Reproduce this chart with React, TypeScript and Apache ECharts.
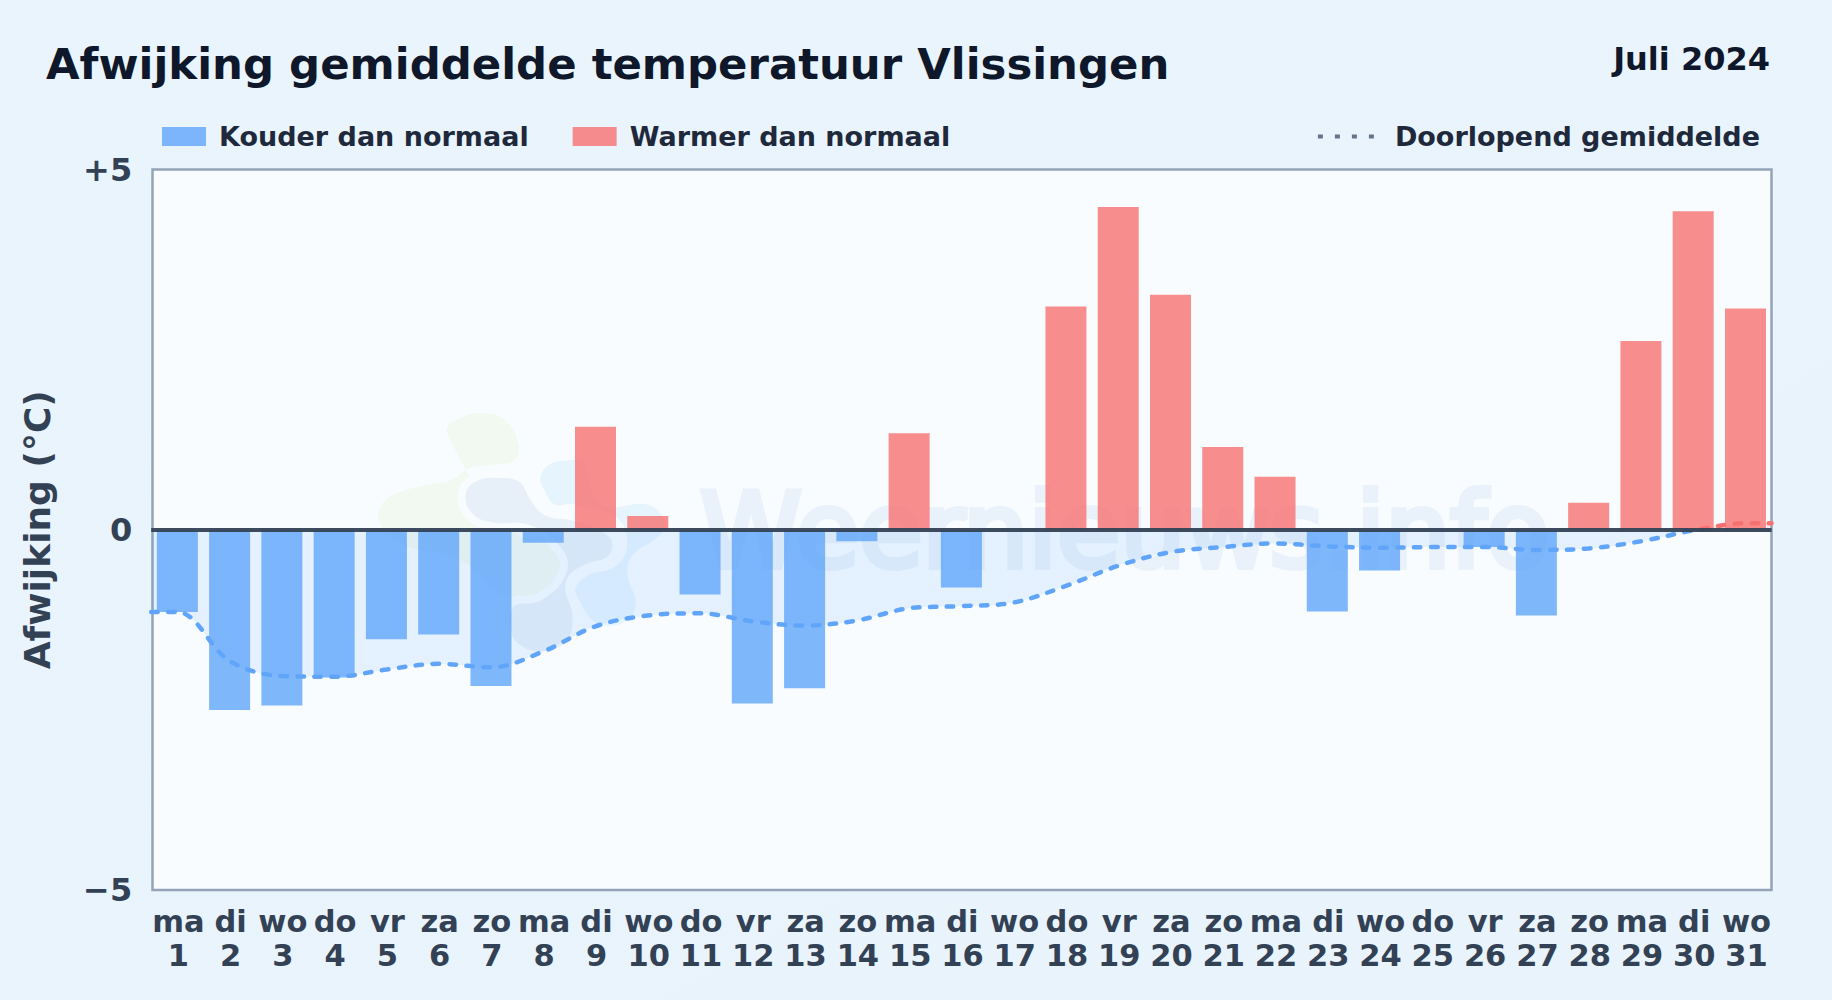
import React, { useEffect, useRef } from "react";
import * as echarts from "echarts";

const weekdays = ["ma","di","wo","do","vr","za","zo","ma","di","wo","do","vr","za","zo","ma","di","wo","do","vr","za","zo","ma","di","wo","do","vr","za","zo","ma","di","wo"];
const dayNumbers = [1,2,3,4,5,6,7,8,9,10,11,12,13,14,15,16,17,18,19,20,21,22,23,24,25,26,27,28,29,30,31];
const deviations = [-1.14,-2.5,-2.44,-2.05,-1.52,-1.455,-2.17,-0.18,1.43,0.19,-0.9,-2.41,-2.2,-0.16,1.34,-0.8,0,3.1,4.48,3.26,1.15,0.735,-1.135,-0.565,0,-0.24,-1.19,0.375,2.62,4.42,3.07];
const runningMean = [-1.14,-1.82,-2.03,-2.04,-1.94,-1.86,-1.91,-1.69,-1.34,-1.19,-1.16,-1.27,-1.33,-1.26,-1.09,-1.06,-1.01,-0.78,-0.5,-0.31,-0.24,-0.19,-0.23,-0.25,-0.24,-0.24,-0.28,-0.26,-0.16,-0.01,0.09];
const greenBlob = [[262,100],[300,55],[380,40],[440,65],[475,130],[465,180],[400,195],[330,205],[275,240],[200,255],[100,285],[60,325],[60,370],[120,430],[300,480],[460,605],[540,590],[610,510],[570,430],[460,395]];
const greyBlob = [[305,285],[340,235],[430,222],[490,240],[520,290],[560,335],[640,350],[740,390],[770,430],[750,480],[680,505],[630,550],[650,650],[630,730],[560,765],[480,750],[440,690],[455,610],[540,590],[610,510],[585,440],[500,385],[400,380],[330,350]];
const lightBlob = [[530,230],[560,185],[620,170],[680,180],[720,300],[770,310],[850,300],[910,330],[925,390],[890,430],[830,470],[815,520],[840,610],[810,670],[740,690],[690,670],[650,610],[635,565],[680,515],[760,490],[790,430],[760,360],[640,325],[580,325],[540,270]];

const COLD = "#60a5fa";
const WARM = "#f87171";
const FONT = "DejaVu Sans";

export default function App() {
  const ref = useRef<HTMLDivElement>(null);
  useEffect(() => {
    document.body.style.margin = "0";
    const chart = echarts.init(ref.current!, undefined, { renderer: "svg" });
    const blob = (points: number[][], fill: string, halo: boolean) => ({
      type: "polygon",
      silent: true,
      shape: { points, smooth: 0.45 },
      style: { fill, stroke: halo ? "#f8fcff" : undefined, lineWidth: halo ? 24 : 0 },
    });
    chart.setOption({
      animation: false,
      backgroundColor: new echarts.graphic.LinearGradient(0, 0, 1, 1, [
        { offset: 0, color: "#e9f4fd" },
        { offset: 1, color: "#e8f3fc" },
      ]),
      textStyle: { fontFamily: FONT },
      title: [
        {
          text: "Afwijking gemiddelde temperatuur Vlissingen",
          left: 46,
          top: 42,
          padding: 0,
          textStyle: { fontFamily: FONT, fontSize: 43.4, fontWeight: "bold", color: "#0f172a" },
        },
        {
          text: "Juli 2024",
          right: 62,
          top: 43,
          padding: 0,
          textStyle: { fontFamily: FONT, fontSize: 32, fontWeight: "bold", color: "#0f172a" },
        },
      ],
      legend: [
        {
          left: 162,
          top: 123,
          padding: 0,
          itemWidth: 44,
          itemHeight: 19,
          itemGap: 44,
          textStyle: { fontFamily: FONT, fontSize: 27, fontWeight: "bold", color: "#1e293b", padding: [0, 0, 0, 8] },
          data: [
            { name: "Kouder dan normaal", icon: "rect" },
            { name: "Warmer dan normaal", icon: "rect" },
          ],
        },
        {
          right: 72,
          top: 123,
          padding: 0,
          itemWidth: 56,
          itemHeight: 19,
          textStyle: { fontFamily: FONT, fontSize: 27, fontWeight: "bold", color: "#1e293b", padding: [0, 0, 0, 16] },
          data: [
            {
              name: "Doorlopend gemiddelde",
              itemStyle: { opacity: 0 },
              lineStyle: { color: "#64748b", width: 4, type: [5, 12], cap: "butt", opacity: 1 },
            },
          ],
        },
      ],
      grid: {
        left: 151.2,
        top: 169.5,
        right: 60.4,
        height: 720.5,
        show: false,
      },
      xAxis: [
        {
          type: "category",
          data: weekdays.map((d, i) => `${d}\n${dayNumbers[i]}`),
          axisLine: { show: false, onZero: false },
          axisTick: { show: false },
          axisLabel: { interval: 0, margin: 14, fontFamily: FONT, fontSize: 30.5, fontWeight: "bold", color: "#334155", lineHeight: 34, padding: [0, 0, 0, 2] },
        },
        { type: "value", min: 0, max: 31, show: false },
      ],
      yAxis: {
        type: "value",
        min: -5,
        max: 5,
        interval: 5,
        name: "Afwijking (°C)",
        nameLocation: "middle",
        nameGap: 96,
        nameTextStyle: { fontFamily: FONT, fontSize: 36, fontWeight: "bold", color: "#334155" },
        axisLine: { show: false },
        axisTick: { show: false },
        splitLine: { show: false },
        axisLabel: {
          margin: 19,
          fontFamily: FONT,
          fontSize: 32,
          fontWeight: "bold",
          color: "#334155",
          formatter: (v: number) => (v > 0 ? `+${v}` : v < 0 ? `−${-v}` : "0"),
        },
      },
      visualMap: {
        show: false,
        type: "piecewise",
        seriesIndex: 2,
        dimension: 1,
        pieces: [
          { gte: -5, lte: 0, color: COLD },
          { gt: 0, lte: 5, color: WARM },
        ],
      },
      series: [
        {
          name: "Kouder dan normaal",
          type: "bar",
          barWidth: 41,
          barGap: "-100%",
          itemStyle: { color: COLD, opacity: 0.8 },
          data: deviations.map((v) => (v < 0 ? v : null)),
          markLine: {
            silent: true,
            symbol: "none",
            label: { show: false },
            lineStyle: { color: "#334155", width: 4, type: "solid", opacity: 0.95 },
            data: [{ yAxis: 0 }],
            z: 5,
          },
        },
        {
          name: "Warmer dan normaal",
          type: "bar",
          barWidth: 41,
          barGap: "-100%",
          itemStyle: { color: WARM, opacity: 0.8 },
          data: deviations.map((v) => (v > 0 ? v : null)),
        },
        {
          name: "Doorlopend gemiddelde",
          type: "line",
          xAxisIndex: 1,
          smooth: 0.35,
          symbol: "none",
          z: 4,
          lineStyle: { width: 4.5, type: [6.5, 10.5], cap: "round" },
          areaStyle: { opacity: 0.13 },
          data: [
            [0, runningMean[0]],
            ...runningMean.map((v, i) => [dayNumbers[i] - 0.5, v]),
            [31, runningMean[runningMean.length - 1]],
          ],
        },
      ],
      graphic: [
        {
          type: "rect",
          silent: true,
          z: -10,
          shape: { x: 152.5, y: 169.5, width: 1619, height: 720.5 },
          style: { fill: "#f8fcff", stroke: "#94a3b8", lineWidth: 2.5 },
        },
        {
          type: "group",
          silent: true,
          z: -9,
          x: 360,
          y: 400,
          scaleX: 1 / 3,
          scaleY: 1 / 3,
          children: [blob(greenBlob, "#f2f9f1", false), blob(greyBlob, "#e7f0f8", true), blob(lightBlob, "#e6f4fe", true)],
        },
        {
          type: "text",
          silent: true,
          z: -8,
          x: 700,
          y: 531,
          style: {
            text: "Weernieuws.info",
            font: `103px "${FONT}"`,
            fill: "#e9f2fa",
            stroke: "#e9f2fa",
            lineWidth: 6,
            verticalAlign: "middle",
          },
        },
      ],
    });
    return () => chart.dispose();
  }, []);
  return <div ref={ref} style={{ width: 1832, height: 1000 }} />;
}
